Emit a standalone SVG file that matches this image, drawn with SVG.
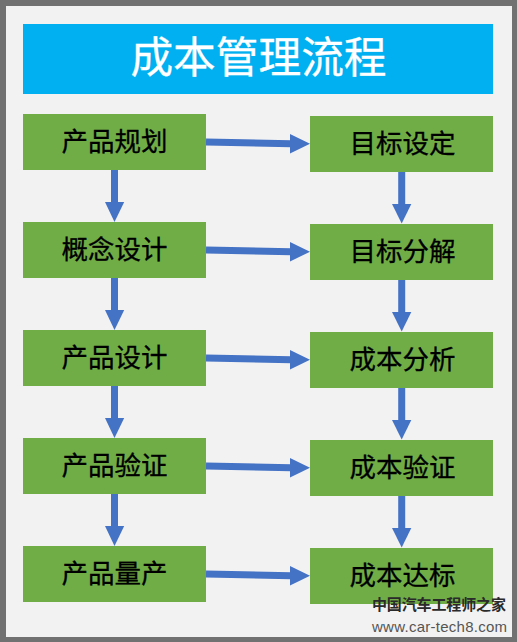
<svg xmlns="http://www.w3.org/2000/svg" width="517" height="642" viewBox="0 0 517 642">
<style>
.n{fill:#70ad47}
.t{font-family:"Noto Sans CJK SC","Liberation Sans",sans-serif;font-size:26.500px;text-anchor:middle;fill:#000;stroke:#000;stroke-width:.3px}
.c line{stroke:#4472c4;stroke-width:7}
.c polygon{fill:#4472c4}
</style>
<rect x="0" y="0" width="517" height="642" fill="#717171"/>
<rect x="6" y="6" width="506" height="631" fill="#f2f2f2"/>
<g id="title"><rect x="23" y="24" width="470" height="70" fill="#00b0f0"/>
<text x="258.500" y="73" font-family="'Noto Sans CJK SC',sans-serif" font-size="42.700" text-anchor="middle" fill="#fff" stroke="#fff" stroke-width=".3">成本管理流程</text></g>
<g class="c" id="connectors">
<line x1="206" y1="142" x2="291" y2="143.700"/><polygon points="290,134 310,143.700 290,153.500"/>
<line x1="206" y1="250" x2="291" y2="251.700"/><polygon points="290,242 310,251.700 290,261.500"/>
<line x1="206" y1="358" x2="291" y2="359.700"/><polygon points="290,350 310,359.700 290,369.500"/>
<line x1="206" y1="466" x2="291" y2="467.700"/><polygon points="290,458 310,467.700 290,477.500"/>
<line x1="206" y1="574" x2="291" y2="575.700"/><polygon points="290,566 310,575.700 290,585.500"/>
<line x1="114.500" y1="170" x2="114.500" y2="203"/><polygon points="105,202 124.200,202 114.500,222"/>
<line x1="114.500" y1="278" x2="114.500" y2="311"/><polygon points="105,310 124.200,310 114.500,330"/>
<line x1="114.500" y1="386" x2="114.500" y2="419"/><polygon points="105,418 124.200,418 114.500,438"/>
<line x1="114.500" y1="494" x2="114.500" y2="527"/><polygon points="105,526 124.200,526 114.500,546"/>
<line x1="401.700" y1="172" x2="401.700" y2="205"/><polygon points="392,204 411.300,204 401.700,223.500"/>
<line x1="401.700" y1="280" x2="401.700" y2="313"/><polygon points="392,312 411.300,312 401.700,331.500"/>
<line x1="401.700" y1="388" x2="401.700" y2="421"/><polygon points="392,420 411.300,420 401.700,439.500"/>
<line x1="401.700" y1="496" x2="401.700" y2="529"/><polygon points="392,528 411.300,528 401.700,547.500"/>
</g>
<g id="l1"><rect class="n" x="23" y="114" width="183" height="56"/><text class="t" x="114.500" y="151">产品规划</text></g>
<g id="l2"><rect class="n" x="23" y="222" width="183" height="56"/><text class="t" x="114.500" y="259">概念设计</text></g>
<g id="l3"><rect class="n" x="23" y="330" width="183" height="56"/><text class="t" x="114.500" y="367">产品设计</text></g>
<g id="l4"><rect class="n" x="23" y="438" width="183" height="56"/><text class="t" x="114.500" y="475">产品验证</text></g>
<g id="l5"><rect class="n" x="23" y="546" width="183" height="56"/><text class="t" x="114.500" y="583">产品量产</text></g>
<g id="r1"><rect class="n" x="310" y="116" width="183" height="56"/><text class="t" x="402.500" y="153">目标设定</text></g>
<g id="r2"><rect class="n" x="310" y="224" width="183" height="56"/><text class="t" x="402.500" y="261">目标分解</text></g>
<g id="r3"><rect class="n" x="310" y="332" width="183" height="56"/><text class="t" x="402.500" y="369">成本分析</text></g>
<g id="r4"><rect class="n" x="310" y="440" width="183" height="56"/><text class="t" x="402.500" y="477">成本验证</text></g>
<g id="r5"><rect class="n" x="310" y="548" width="183" height="56"/><text class="t" x="402.500" y="585">成本达标</text></g>
<g id="watermark">
<text x="372" y="610" font-family="'Noto Sans CJK SC',sans-serif" font-size="15" font-weight="700" textLength="134" lengthAdjust="spacing" fill="#2a2a2a">中国汽车工程师之家</text>
<text x="372" y="631.500" font-family="'Liberation Sans',sans-serif" font-size="15" textLength="135" lengthAdjust="spacing" fill="#555">www.car-tech8.com</text>
</g>
</svg>
